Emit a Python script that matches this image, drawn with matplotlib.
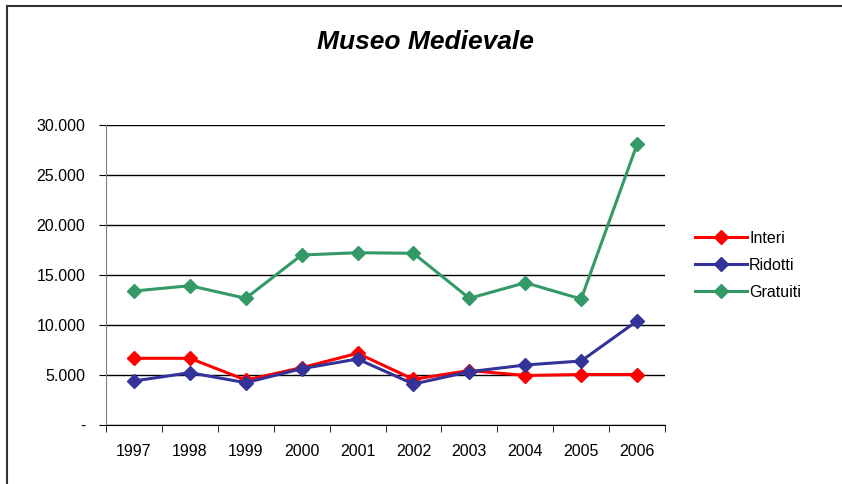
import matplotlib
matplotlib.use('Agg')
from matplotlib import pyplot as plt
from matplotlib.lines import Line2D

plt.rcParams['font.family'] = ['Liberation Sans', 'DejaVu Sans']

anni = ['1997', '1998', '1999', '2000', '2001', '2002', '2003', '2004', '2005', '2006']
interi = [6670, 6670, 4500, 5730, 7170, 4570, 5450, 4950, 5050, 5050]
ridotti = [4400, 5230, 4230, 5630, 6600, 4100, 5330, 6000, 6400, 10400]
gratuiti = [13400, 13930, 12670, 17000, 17230, 17170, 12670, 14230, 12600, 28070]

y_ticks = [0, 5000, 10000, 15000, 20000, 25000, 30000]
y_labels = ['-', '5.000', '10.000', '15.000', '20.000', '25.000', '30.000']

serie = [('Interi', interi, '#FF0000'),
         ('Ridotti', ridotti, '#333399'),
         ('Gratuiti', gratuiti, '#339966')]

fig = plt.figure(figsize=(8.42, 4.84), dpi=100)
ax = fig.add_axes([0.1259, 0.1219, 0.6639, 0.6198])

x = list(range(len(anni)))
for nome, valori, colore in serie:
    ax.plot(x, valori, color=colore, linewidth=2.2, marker='D', markersize=7.5,
            label=nome, zorder=3)

ax.set_xlim(-0.5, len(anni) - 0.5)
ax.set_ylim(0, 30000)
ax.set_yticks(y_ticks)
ax.set_yticklabels(y_labels, fontsize=11.5)
ax.yaxis.grid(True, color='black', linewidth=1)
ax.set_axisbelow(True)

# category labels at centres, tick marks at the boundaries
ax.set_xticks(x)
ax.set_xticklabels(anni, fontsize=11.5)
ax.tick_params(axis='x', which='major', length=0, pad=14)
ax.set_xticks([i - 0.5 for i in range(len(anni) + 1)], minor=True)
ax.tick_params(axis='x', which='minor', length=5, color='black', direction='out')
ax.tick_params(axis='y', length=5, color='black', direction='out', pad=10)

for s in ['top', 'right']:
    ax.spines[s].set_visible(False)
ax.spines['left'].set_color('#808080')
ax.spines['bottom'].set_color('black')

fig.text(0.505, 0.913, 'Museo Medievale', fontsize=19, fontweight='bold',
         fontstyle='italic', ha='center', va='center')

handles = [Line2D([], [], color=c, linewidth=2.2, marker='D', markersize=7.5)
           for _, _, c in serie]
fig.legend(handles, [n for n, _, _ in serie], loc='center left',
           bbox_to_anchor=(0.808, 0.452), frameon=False, fontsize=11.5,
           handlelength=3.3, handletextpad=0.1, labelspacing=0.75)

# chart border on the left and top
fig.add_artist(Line2D([0.0083, 0.0083], [0.0, 0.987], color='#333333', linewidth=1.5))
fig.add_artist(Line2D([0.0083, 1.0], [0.987, 0.987], color='#333333', linewidth=1.5))

fig.savefig('out.png', dpi=100)
